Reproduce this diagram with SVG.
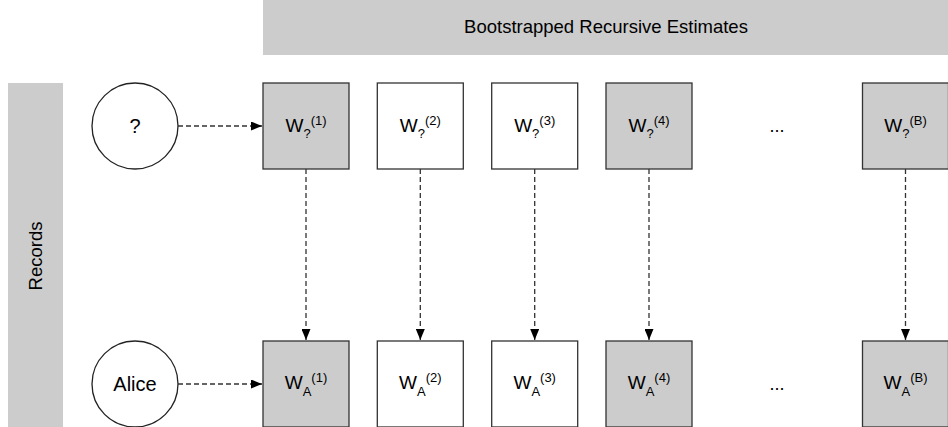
<svg xmlns="http://www.w3.org/2000/svg" width="948" height="427" viewBox="0 0 948 427">
<defs>
<marker id="ah" markerWidth="11" markerHeight="9" refX="11" refY="4.5" orient="auto" markerUnits="userSpaceOnUse">
<path d="M0,0 L11,4.5 L0,9 Z" fill="#000"/>
</marker>
<style>
text{font-family:"Liberation Sans",Arial,sans-serif;fill:#000;}
.band{fill:#cccccc;}
.box{stroke:#333;stroke-width:1.3;}
.g{fill:#cccccc;}
.w{fill:#ffffff;}
.circ{fill:#fff;stroke:#222;stroke-width:1.3;}
.lbl{font-size:19px;text-anchor:middle;}
.sm{font-size:13px;}
.edge{stroke:#333;stroke-width:1.3;stroke-dasharray:5 3;fill:none;marker-end:url(#ah);}
</style>
</defs>
<rect class="band" x="263" y="0" width="685" height="55"/>
<text x="606" y="33" font-size="18.5" text-anchor="middle">Bootstrapped Recursive Estimates</text>
<rect class="band" x="8" y="83" width="55" height="344"/>
<text x="0" y="0" font-size="18.5" text-anchor="middle" transform="translate(42,256) rotate(-90)">Records</text>

<g id="q"><circle class="circ" cx="135" cy="126" r="43"/><text x="135" y="133" font-size="20" text-anchor="middle">?</text></g>
<g id="alice"><circle class="circ" cx="135" cy="384" r="43"/><text x="135" y="391" font-size="20" text-anchor="middle">Alice</text></g>

<g id="wq1"><rect class="box g" x="263" y="83" width="86" height="86"/><text class="lbl" x="306" y="132">W<tspan class="sm" dy="6">?</tspan><tspan class="sm" dy="-13">(1)</tspan></text></g>
<g id="wq2"><rect class="box w" x="377.3" y="83" width="86" height="86"/><text class="lbl" x="420.3" y="132">W<tspan class="sm" dy="6">?</tspan><tspan class="sm" dy="-13">(2)</tspan></text></g>
<g id="wq3"><rect class="box w" x="491.7" y="83" width="86" height="86"/><text class="lbl" x="534.7" y="132">W<tspan class="sm" dy="6">?</tspan><tspan class="sm" dy="-13">(3)</tspan></text></g>
<g id="wq4"><rect class="box g" x="606" y="83" width="86" height="86"/><text class="lbl" x="649" y="132">W<tspan class="sm" dy="6">?</tspan><tspan class="sm" dy="-13">(4)</tspan></text></g>
<g id="dots1"><text x="777" y="132" font-size="18" text-anchor="middle">...</text></g>
<g id="wqB"><rect class="box g" x="862.5" y="83" width="86" height="86"/><text class="lbl" x="905.5" y="132">W<tspan class="sm" dy="6">?</tspan><tspan class="sm" dy="-13">(B)</tspan></text></g>

<g id="wa1"><rect class="box g" x="263" y="341" width="86" height="86"/><text class="lbl" x="306" y="389">W<tspan class="sm" dy="7">A</tspan><tspan class="sm" dy="-14">(1)</tspan></text></g>
<g id="wa2"><rect class="box w" x="377.3" y="341" width="86" height="86"/><text class="lbl" x="420.3" y="389">W<tspan class="sm" dy="7">A</tspan><tspan class="sm" dy="-14">(2)</tspan></text></g>
<g id="wa3"><rect class="box w" x="491.7" y="341" width="86" height="86"/><text class="lbl" x="534.7" y="389">W<tspan class="sm" dy="7">A</tspan><tspan class="sm" dy="-14">(3)</tspan></text></g>
<g id="wa4"><rect class="box g" x="606" y="341" width="86" height="86"/><text class="lbl" x="649" y="389">W<tspan class="sm" dy="7">A</tspan><tspan class="sm" dy="-14">(4)</tspan></text></g>
<g id="dots2"><text x="777" y="390" font-size="18" text-anchor="middle">...</text></g>
<g id="waB"><rect class="box g" x="862.5" y="341" width="86" height="86"/><text class="lbl" x="905.5" y="389">W<tspan class="sm" dy="7">A</tspan><tspan class="sm" dy="-14">(B)</tspan></text></g>

<g id="connectors">
<line class="edge" x1="178" y1="126" x2="262" y2="126"/>
<line class="edge" x1="178" y1="384" x2="262" y2="384"/>
<line class="edge" x1="306" y1="169" x2="306" y2="340"/>
<line class="edge" x1="420.3" y1="169" x2="420.3" y2="340"/>
<line class="edge" x1="534.7" y1="169" x2="534.7" y2="340"/>
<line class="edge" x1="649" y1="169" x2="649" y2="340"/>
<line class="edge" x1="905.5" y1="169" x2="905.5" y2="340"/>
</g>
</svg>
